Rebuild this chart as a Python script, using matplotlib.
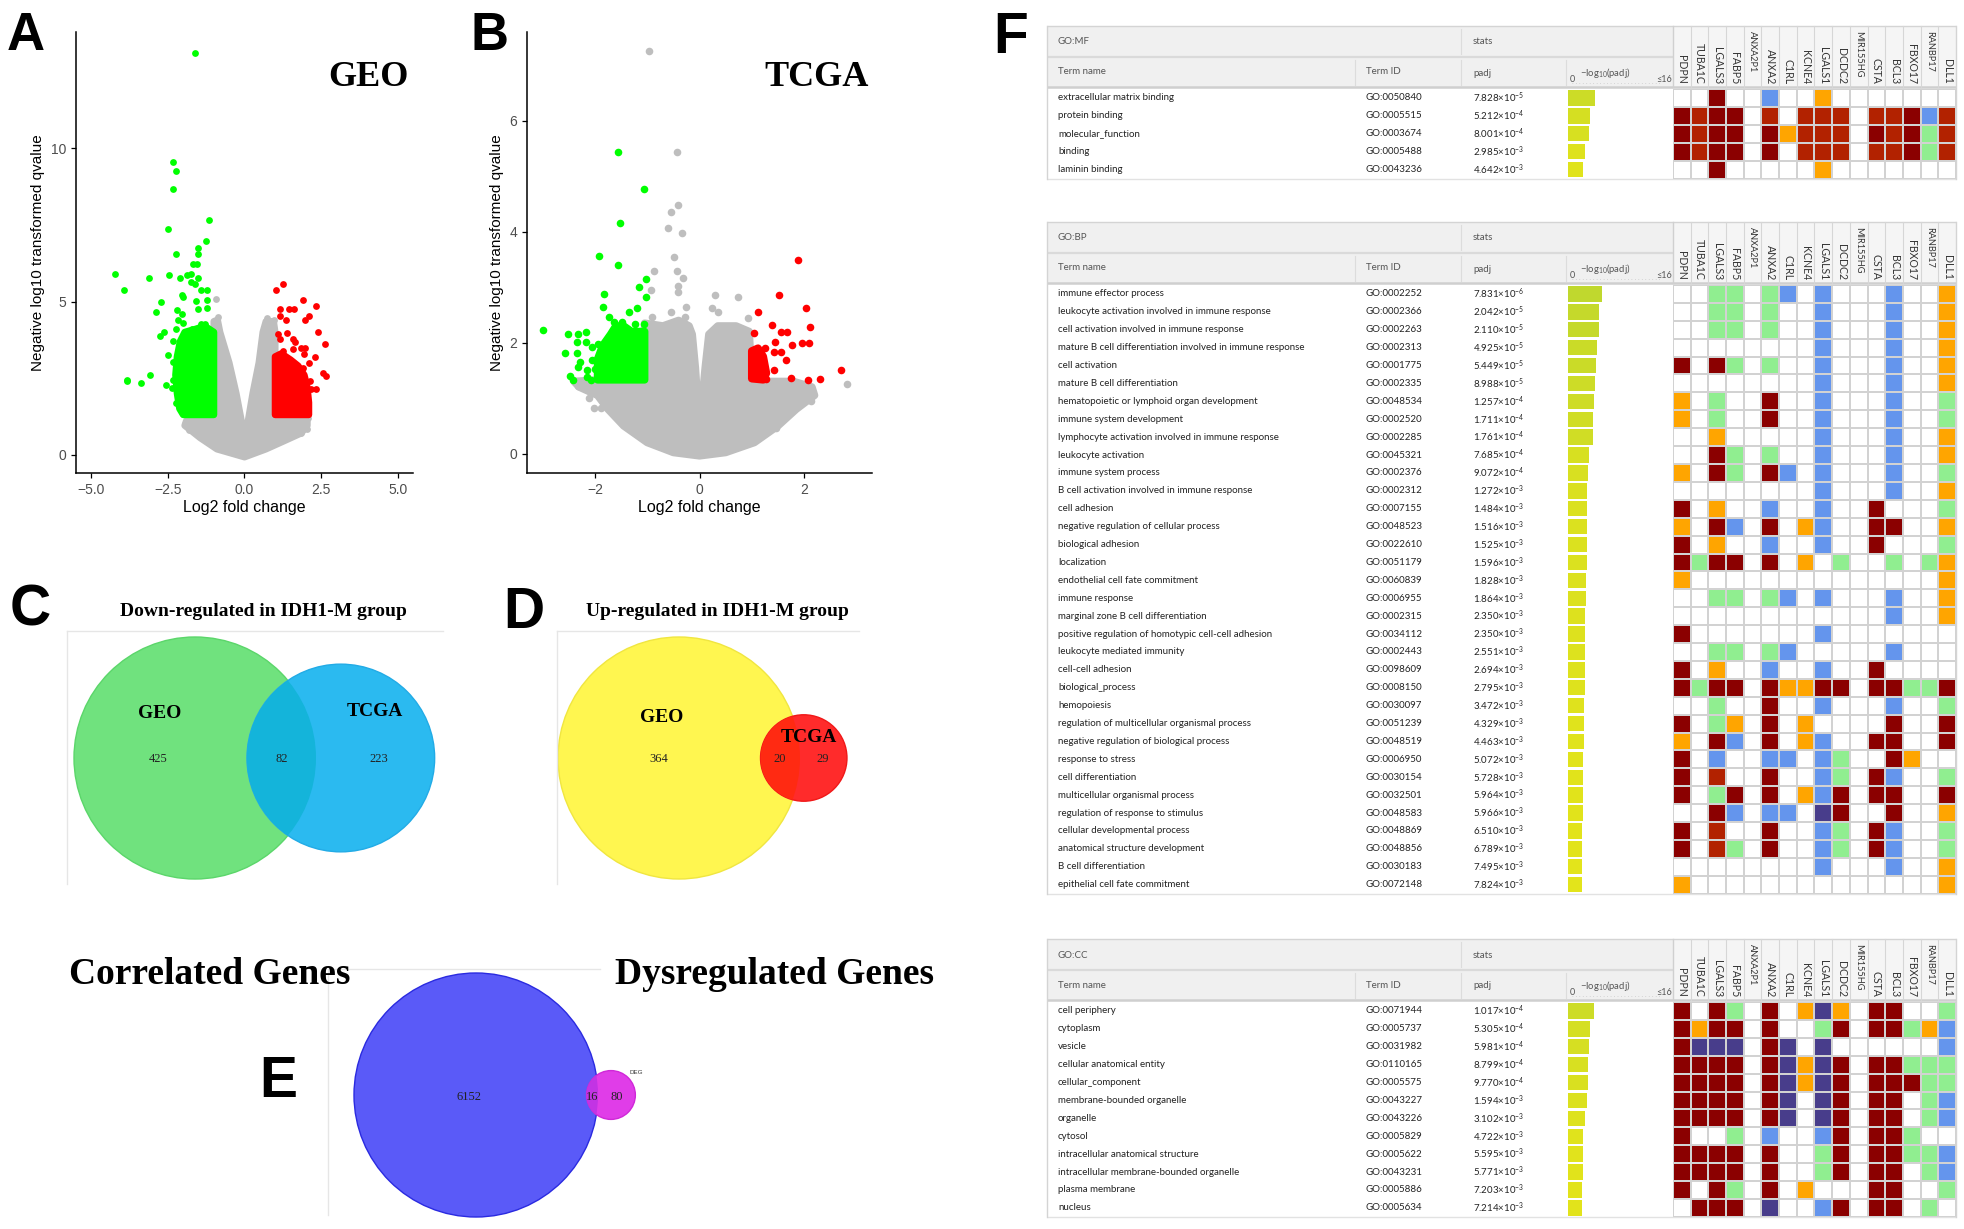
import numpy as np
import matplotlib
matplotlib.use("Agg")
import matplotlib.pyplot as plt
from matplotlib.patches import Circle, Rectangle
from matplotlib.colors import ListedColormap, BoundaryNorm, LinearSegmentedColormap

plt.rcParams["font.family"] = ["Liberation Sans", "DejaVu Sans"]
plt.rcParams["mathtext.fontset"] = "custom"
plt.rcParams["mathtext.rm"] = "Lato"
plt.rcParams["mathtext.it"] = "Lato:italic"
plt.rcParams["mathtext.bf"] = "Lato:bold"

# ─────────────────────────────────────────────
#  VOLCANO DATA  (log2 fold change, -log10 q)
# ─────────────────────────────────────────────
# dense clouds are given as outlines, lone dots as points
geo_gray_core_x = [-1.0, -0.88, -0.8, -0.5, -0.27, -0.08, 0.0, 0.1, 0.27, 0.47, 0.6, 0.7,
                   0.95, 1.0, 1.0, 2.05, 2.05, 1.85, 1.3, 0.7, 0.0, -0.9, -1.45, -1.95,
                   -1.9, -1.5, -1.0]
geo_gray_core_y = [4.35, 4.4, 4.0, 3.0, 2.0, 1.0, 0.35, 1.0, 2.0, 3.0, 4.0, 4.35,
                   4.35, 4.0, 1.3, 1.25, 0.95, 0.7, 0.45, 0.18, -0.08, 0.18, 0.55, 0.95,
                   1.1, 1.3, 1.3]
geo_gray_x = [-0.92, -0.85, 0.75, 0.95, 2.07, 2.05, 1.85, -1.95, -1.8, -1.5, -1.0, 1.6]
geo_gray_y = [5.09, 4.5, 4.45, 4.4, 1.2, 0.85, 0.72, 1.0, 0.8, 0.6, 0.35, 0.75]

geo_green_core_x = [-1.0, -2.0, -2.12, -2.2, -2.25, -2.2, -2.1, -1.95, -1.6, -1.3, -1.0]
geo_green_core_y = [1.3, 1.3, 1.5, 2.0, 2.6, 3.2, 3.7, 4.0, 4.1, 4.2, 4.0]
geo_green_x = [-1.60, -2.33, -2.25, -2.32, -1.16, -2.49, -1.25, -1.53, -2.25, -1.51, -1.68,
               -1.55, -4.23, -3.12, -2.47, -2.09, -1.88, -1.74, -1.51, -1.75, -1.61, -1.42,
               -1.23, -3.93, -2.05, -2.02, -1.57, -1.23, -2.74, -2.21, -1.51, -1.23, -2.89,
               -2.03, -2.16, -2.00, -1.41, -1.28, -2.24, -2.62, -2.76, -1.71, -2.34, -2.50,
               -2.32, -3.83, -3.83, -3.37, -3.08, -2.55, -2.37, -2.33, -2.25]
geo_green_y = [13.11, 9.57, 9.26, 8.68, 7.65, 7.38, 6.96, 6.75, 6.55, 6.55, 6.23,
               6.23, 5.90, 5.77, 5.85, 5.77, 5.86, 5.90, 5.77, 5.63, 5.57, 5.39,
               5.39, 5.37, 5.21, 5.14, 5.01, 5.04, 5.00, 4.73, 4.74, 4.79, 4.65,
               4.60, 4.38, 4.31, 4.25, 4.27, 4.09, 4.00, 3.87, 4.11, 3.71, 3.24,
               3.03, 2.44, 2.39, 2.35, 2.60, 2.28, 2.19, 2.43, 1.70]

geo_red_core_x = [1.0, 1.0, 1.2, 1.5, 1.75, 1.95, 2.05, 2.1, 2.1]
geo_red_core_y = [1.3, 3.2, 3.3, 3.1, 2.9, 2.6, 2.2, 1.7, 1.3]
geo_red_x = [1.04, 1.27, 1.91, 2.32, 1.17, 1.45, 1.61, 2.10, 1.17, 1.34, 1.96, 1.38, 2.41,
             1.09, 1.16, 1.59, 1.64, 2.62, 1.86, 1.98, 1.58, 1.94, 2.29, 2.10, 1.90, 2.55,
             2.66, 2.15, 2.34, 2.17, 1.25]
geo_red_y = [5.39, 5.56, 5.04, 4.85, 4.74, 4.74, 4.74, 4.54, 4.52, 4.41, 4.38, 3.98, 4.00,
             3.93, 3.76, 3.76, 3.69, 3.62, 3.49, 3.47, 3.44, 3.30, 3.20, 3.00, 2.84, 2.68,
             2.57, 2.39, 2.14, 2.14, 3.38]

tcga_gray_core_x = [-1.05, -0.7, -0.4, -0.2, -0.14, -0.08, 0.0, 0.11, 0.18, 0.35, 0.7, 0.95,
                    1.0, 1.3, 1.8, 2.15, 2.2, 1.85, 1.5, 1.05, 0.5, 0.0, -0.5, -1.0, -1.45,
                    -1.75, -1.95, -2.3, -2.4, -1.9, -1.05]
tcga_gray_core_y = [2.35, 2.3, 2.4, 2.3, 2.15, 1.55, 0.45, 1.55, 2.15, 2.3, 2.3, 2.2,
                    1.33, 1.3, 1.3, 1.2, 1.05, 0.8, 0.5, 0.2, 0.02, -0.04, 0.02, 0.2, 0.5,
                    0.8, 1.05, 1.2, 1.3, 1.33, 1.33]
tcga_gray_x = [-0.97, -0.43, -0.42, -0.54, -0.60, -0.34, -0.49, -0.87, -0.44, -0.31, -0.41,
               -0.41, -0.93, 0.29, 0.74, -0.25, 0.24, 0.36, 0.92, -0.90, -0.55, -0.27, 2.83,
               2.12, 2.13, 1.46, -2.02, -1.89, -2.12, -2.33]
tcga_gray_y = [7.26, 5.44, 4.49, 4.35, 4.06, 3.98, 3.54, 3.30, 3.30, 3.16, 3.02,
               2.92, 2.94, 2.86, 2.82, 2.64, 2.62, 2.56, 2.44, 2.47, 2.55, 2.47, 1.26,
               1.09, 0.94, 0.46, 0.82, 0.82, 1.00, 1.21]

tcga_green_core_x = [-1.05, -1.95, -1.95, -1.85, -1.7, -1.6, -1.45, -1.3, -1.05]
tcga_green_core_y = [1.33, 1.33, 1.7, 1.95, 2.15, 2.3, 2.3, 2.2, 2.2]
tcga_green_x = [-2.99, -1.55, -1.07, -1.53, -1.93, -1.56, -1.02, -1.15, -1.83, -1.02, -1.84,
                -1.19, -1.34, -1.73, -2.51, -2.32, -2.17, -2.35, -2.17, -2.57, -2.35, -2.05,
                -1.95, -2.28, -2.06, -2.32, -2.16, -2.00, -2.47, -2.42, -2.16, -2.07, -1.63,
                -1.48, -1.23, -1.07]
tcga_green_y = [2.22, 5.44, 4.77, 4.16, 3.56, 3.40, 3.15, 3.00, 2.88, 2.82, 2.64,
                2.62, 2.55, 2.47, 2.16, 2.16, 2.19, 2.01, 2.01, 1.81, 1.81, 1.93,
                1.98, 1.66, 1.69, 1.56, 1.51, 1.53, 1.39, 1.32, 1.38, 1.33, 2.38,
                2.37, 2.34, 2.34]

tcga_red_core_x = [1.0, 1.0, 1.12, 1.22, 1.28, 1.22]
tcga_red_core_y = [1.35, 1.85, 1.9, 1.75, 1.45, 1.33]
tcga_red_x = [1.89, 1.53, 2.03, 1.11, 1.38, 2.12, 1.05, 1.56, 1.68, 1.45, 1.76, 1.96, 2.10,
              1.56, 1.42, 1.25, 1.66, 1.16, 2.70, 2.31, 2.08, 1.75, 1.27, 1.42]
tcga_red_y = [3.49, 2.86, 2.62, 2.56, 2.32, 2.29, 2.17, 2.19, 2.19, 2.01, 1.96, 1.99, 1.99,
              1.84, 1.84, 1.90, 1.68, 1.68, 1.51, 1.35, 1.32, 1.36, 1.35, 1.51]

# ─────────────────────────────────────────────
#  VENN COUNTS  (left only, shared, right only)
# ─────────────────────────────────────────────
down_counts = [425, 82, 223]
up_counts = [364, 20, 29]
corr_counts = [6152, 16, 80]

# ─────────────────────────────────────────────
#  GO ENRICHMENT TABLES
# ─────────────────────────────────────────────
genes = ["PDPN", "TUBA1C", "LGALS3", "FABP5", "ANXA2P1", "ANXA2", "C1RL", "KCNE4",
         "LGALS1", "DCDC2", "MIR155HG", "CSTA", "BCL3", "FBXO17", "RANBP17", "DLL1"]

mf_terms = ["extracellular matrix binding", "protein binding", "molecular_function",
            "binding", "laminin binding"]
mf_ids = ["GO:0050840", "GO:0005515", "GO:0003674", "GO:0005488", "GO:0043236"]
mf_padj = [7.828e-5, 5.212e-4, 8.001e-4, 2.985e-3, 4.642e-3]
mf_hits = ["..D..B..O.......", "DRDD.R.RRR.RRDBR", "DRDD.DORRR.DRDGR",
           "DRDD.D.RRR.RRDGR", "..D.....O......."]

bp_terms = ["immune effector process", "leukocyte activation involved in immune response",
            "cell activation involved in immune response",
            "mature B cell differentiation involved in immune response", "cell activation",
            "mature B cell differentiation", "hematopoietic or lymphoid organ development",
            "immune system development", "lymphocyte activation involved in immune response",
            "leukocyte activation", "immune system process",
            "B cell activation involved in immune response", "cell adhesion",
            "negative regulation of cellular process", "biological adhesion", "localization",
            "endothelial cell fate commitment", "immune response",
            "marginal zone B cell differentiation",
            "positive regulation of homotypic cell-cell adhesion", "leukocyte mediated immunity",
            "cell-cell adhesion", "biological_process", "hemopoiesis",
            "regulation of multicellular organismal process",
            "negative regulation of biological process", "response to stress",
            "cell differentiation", "multicellular organismal process",
            "regulation of response to stimulus", "cellular developmental process",
            "anatomical structure development", "B cell differentiation",
            "epithelial cell fate commitment"]
bp_ids = ["GO:0002252", "GO:0002366", "GO:0002263", "GO:0002313", "GO:0001775", "GO:0002335",
          "GO:0048534", "GO:0002520", "GO:0002285", "GO:0045321", "GO:0002376", "GO:0002312",
          "GO:0007155", "GO:0048523", "GO:0022610", "GO:0051179", "GO:0060839", "GO:0006955",
          "GO:0002315", "GO:0034112", "GO:0002443", "GO:0098609", "GO:0008150", "GO:0030097",
          "GO:0051239", "GO:0048519", "GO:0006950", "GO:0030154", "GO:0032501", "GO:0048583",
          "GO:0048869", "GO:0048856", "GO:0030183", "GO:0072148"]
bp_padj = [7.831e-6, 2.042e-5, 2.110e-5, 4.925e-5, 5.449e-5, 8.988e-5, 1.257e-4, 1.711e-4,
           1.761e-4, 7.685e-4, 9.072e-4, 1.272e-3, 1.484e-3, 1.516e-3, 1.525e-3, 1.596e-3,
           1.828e-3, 1.864e-3, 2.350e-3, 2.350e-3, 2.551e-3, 2.694e-3, 2.795e-3, 3.472e-3,
           4.329e-3, 4.463e-3, 5.072e-3, 5.728e-3, 5.964e-3, 5.966e-3, 6.510e-3, 6.789e-3,
           7.495e-3, 7.824e-3]
bp_hits = ["..GG.GB.B...B..O", "..GG.G..B...B..O", "..GG.G..B...B..O", "........B...B..O",
           "D.DG.G..B...B..O", "........B...B..O", "O.G..D..B...B..G", "O.G..D..B...B..G",
           "..O.....B...B..O", "..DG.G..B...B..O", "O.DG.DB.B...B..G", "........B...B..O",
           "D.O..B..B..D...G", "O.DB.D.OB..DD..O", "D.O..B..B..D...G", "DGDD.D.O.G..G.GO",
           "O..............O", "..GG.GB.B...B..O", "............B..O", "D.......B.......",
           "..GG.GB.....B...", "D.O..B..B..D....", "DGDD.DOODD.DDGGD", "..G..D..B...B..G",
           "D.GO.D.O....D..D", "O.DB.D.OB..DD..D", "D.B..BB.BG..DO..", "D.R..D..BG.DB..G",
           "D.GD.D.OBD.DD..D", "..DB.BB.PD..D..O", "D.R..D..BG.DB..G", "D.RG.D..BG.DB..G",
           "........B...B..O", "O..............O"]

cc_terms = ["cell periphery", "cytoplasm", "vesicle", "cellular anatomical entity",
            "cellular_component", "membrane-bounded organelle", "organelle", "cytosol",
            "intracellular anatomical structure", "intracellular membrane-bounded organelle",
            "plasma membrane", "nucleus"]
cc_ids = ["GO:0071944", "GO:0005737", "GO:0031982", "GO:0110165", "GO:0005575", "GO:0043227",
          "GO:0043226", "GO:0005829", "GO:0005622", "GO:0043231", "GO:0005886", "GO:0005634"]
cc_padj = [1.017e-4, 5.305e-4, 5.981e-4, 8.799e-4, 9.770e-4, 1.594e-3, 3.102e-3, 4.722e-3,
           5.595e-3, 5.771e-3, 7.203e-3, 7.214e-3]
cc_hits = ["D.DG.D.OPO.DD..G", "DODD.D..GD.DDGOB", "DPPP.DP.P......B", "DDDD.DPOPD.DDGGG",
           "DDDD.DPOPD.DDDGG", "DDDD.DP.PD.DD.GB", "DDDD.DP.PD.DD.GB", "D..G.B..BD.DDG..",
           "DDDD.D..GD.DDGGB", "DDDD.D..GD.DD.GB", "D.DG.D.O...DD..G", ".DDD.P..BD.DD.G."]

# ─────────────────────────────────────────────
#  LAYOUT / STYLE
# ─────────────────────────────────────────────
W, H = 1965, 1229
GRAY, GREEN, RED = "#BEBEBE", "#00FF00", "#FF0000"
SERIF = ["Liberation Serif", "DejaVu Serif"]
TFONT = ["Lato", "DejaVu Sans"]
HIT_CODES = ".DRBOGP"
HIT_COLORS = ["white", "#8B0000", "#B22200", "#6495ED", "#FFA500", "#90EE90", "#483D8B"]

fig = plt.figure(figsize=(W / 100, H / 100), dpi=100)


def px_axes(x0, y0, x1, y1):
    return fig.add_axes([x0 / W, 1 - y1 / H, (x1 - x0) / W, (y1 - y0) / H])


# overlay in pixel units for frames, venns and text
ov = px_axes(0, 0, W, H)
ov.set_xlim(0, W)
ov.set_ylim(H, 0)
ov.axis("off")

for letter, x, y, size in [("A", 7, 50, 38), ("B", 471, 50, 38), ("C", 10, 626, 41),
                           ("D", 503, 628, 41), ("E", 259, 1097, 41), ("F", 993, 53, 41)]:
    ov.text(x, y, letter, fontsize=size, fontweight="bold", va="baseline", ha="left")


# ─────────────────────────────────────────────
#  VOLCANO PLOTS
# ─────────────────────────────────────────────
def volcano(box, gray, green, red, xlim, ylim, xticks, yticks, dot):
    ax = px_axes(*box)
    ax.set_facecolor("none")
    lw = np.sqrt(dot)
    for (cx, cy, px, py), col in zip([gray, green, red], [GRAY, GREEN, RED]):
        ax.fill(cx, cy, fc=col, ec=col, lw=lw, joinstyle="round")
        ax.scatter(px, py, s=dot, c=col, linewidths=0)
    ax.set_xlim(*xlim)
    ax.set_ylim(*ylim)
    ax.set_xticks(xticks)
    ax.set_yticks(yticks)
    for s in ["top", "right"]:
        ax.spines[s].set_visible(False)
    for s in ["left", "bottom"]:
        ax.spines[s].set_linewidth(1.1)
    ax.tick_params(direction="out", length=3.5, width=0.9, labelsize=10, labelcolor="#4D4D4D")
    ax.set_xlabel("Log2 fold change", fontsize=11.5, labelpad=2)
    ax.set_ylabel("Negative log10 transformed qvalue", fontsize=11, labelpad=4)
    return ax


volcano((76, 32, 413, 473),
        (geo_gray_core_x, geo_gray_core_y, geo_gray_x, geo_gray_y),
        (geo_green_core_x, geo_green_core_y, geo_green_x, geo_green_y),
        (geo_red_core_x, geo_red_core_y, geo_red_x, geo_red_y),
        (-5.5, 5.5), (-0.6, 13.8), [-5, -2.5, 0, 2.5, 5], [0, 5, 10], 24)
volcano((527, 32, 872, 473),
        (tcga_gray_core_x, tcga_gray_core_y, tcga_gray_x, tcga_gray_y),
        (tcga_green_core_x, tcga_green_core_y, tcga_green_x, tcga_green_y),
        (tcga_red_core_x, tcga_red_core_y, tcga_red_x, tcga_red_y),
        (-3.3, 3.3), (-0.35, 7.6), [-2, 0, 2], [0, 2, 4, 6], 30)

ov.text(368, 77, "GEO", fontsize=26, fontweight="bold", family=SERIF, ha="center", va="center")
ov.text(817, 77, "TCGA", fontsize=26, fontweight="bold", family=SERIF, ha="center", va="center")


# ─────────────────────────────────────────────
#  VENN DIAGRAMS (area proportional)
# ─────────────────────────────────────────────
def lens_area(r1, r2, d):
    if d >= r1 + r2:
        return 0.0
    if d <= abs(r1 - r2):
        return np.pi * min(r1, r2) ** 2
    a = r1 ** 2 * np.arccos((d * d + r1 * r1 - r2 * r2) / (2 * d * r1))
    b = r2 ** 2 * np.arccos((d * d + r2 * r2 - r1 * r1) / (2 * d * r2))
    c = 0.5 * np.sqrt((-d + r1 + r2) * (d + r1 - r2) * (d - r1 + r2) * (d + r1 + r2))
    return a + b - c


def centre_distance(r1, r2, target):
    lo, hi = abs(r1 - r2), r1 + r2
    for _ in range(60):
        mid = 0.5 * (lo + hi)
        if lens_area(r1, r2, mid) > target:
            lo = mid
        else:
            hi = mid
    return 0.5 * (lo + hi)


def venn(counts, cx, cy, R, cols, edges, min_frac=0.0):
    only1, both, only2 = counts
    n1, n2 = only1 + both, both + only2
    f = max(np.sqrt(n2 / n1), min_frac)
    d = centre_distance(1.0, f, both / n2 * np.pi * f ** 2)
    big = Circle((cx, cy), R, fc=cols[0], ec=edges[0], lw=1.0)
    small = Circle((cx + d * R, cy), f * R, fc=cols[1], ec=edges[1], lw=1.0)
    clip = Circle((cx, cy), R, fc="none", ec="none")
    lens = Circle((cx + d * R, cy), f * R, fc=cols[2], ec="none")
    for p in (big, small, clip, lens):
        ov.add_patch(p)
    lens.set_clip_path(clip)


def frame(x0, x1, y0, y1):
    ov.plot([x0, x1], [y0, y0], color="#E6E6E6", lw=1.0)
    ov.plot([x0, x0], [y0, y1], color="#E6E6E6", lw=1.0)


frame(67, 443, 631, 884)
venn(down_counts, 195, 758, 121, ["#70E27E", "#2BBAF0", "#14B4DA"], ["#5BD66A", "#22ABE6"])
ov.text(263, 612, "Down-regulated in IDH1-M group", fontsize=14, fontweight="bold",
        family=SERIF, ha="center", va="center")
ov.text(160, 714, "GEO", fontsize=14, fontweight="bold", family=SERIF, ha="center", va="center")
ov.text(375, 712, "TCGA", fontsize=14, fontweight="bold", family=SERIF, ha="center", va="center")
for n, x in zip(down_counts, [158, 282, 379]):
    ov.text(x, 759, str(n), fontsize=9, family=SERIF, ha="center", va="center", color="#222222")

frame(557, 859, 631, 884)
venn(up_counts, 679, 758, 121, ["#FFF650", "#FF2B2B", "#FF2A12"], ["#F0E640", "#F01818"])
ov.text(717, 612, "Up-regulated in IDH1-M group", fontsize=14, fontweight="bold",
        family=SERIF, ha="center", va="center")
ov.text(662, 717, "GEO", fontsize=14, fontweight="bold", family=SERIF, ha="center", va="center")
ov.text(809, 737, "TCGA", fontsize=14, fontweight="bold", family=SERIF, ha="center", va="center")
for n, x in zip(up_counts, [659, 780, 823]):
    ov.text(x, 759, str(n), fontsize=9, family=SERIF, ha="center", va="center", color="#222222")

frame(328, 600, 969, 1215)
venn(corr_counts, 476, 1095, 122, ["#5A5AF8", "#E03DE8", "#C234E4"], ["#2A2AE0", "#D028D8"],
     min_frac=0.2)
ov.text(210, 975, "Correlated Genes", fontsize=27, fontweight="bold", family=SERIF,
        ha="center", va="center")
ov.text(775, 975, "Dysregulated Genes", fontsize=27, fontweight="bold", family=SERIF,
        ha="center", va="center")
for n, x in zip(corr_counts, [469, 592, 617]):
    ov.text(x, 1097, str(n), fontsize=9, family=SERIF, ha="center", va="center", color="#222222")
ov.text(636, 1072, "DEG", fontsize=4.5, ha="center", va="center", color="#333333")

# ─────────────────────────────────────────────
#  GO TABLES
# ─────────────────────────────────────────────
PITCH = 17.9
X_LEFT, X_ID, X_PADJ = 1047, 1366, 1473
BAR_L, BAR_R = 1568, 1674
GRID_L, GRID_R = 1673, 1956
bar_cmap = LinearSegmentedColormap.from_list("bar", ["#E4E41A", "#BCD630"])
hit_cmap = ListedColormap(HIT_COLORS)
hit_norm = BoundaryNorm(np.arange(len(HIT_COLORS) + 1) - 0.5, len(HIT_COLORS))


def sci(v):
    e = int(np.floor(np.log10(v)))
    return "%.3f×10$^{%d}$" % (v / 10 ** e, e)


def go_table(top, title, terms, ids, padj, hits):
    n = len(terms)
    rows_top = top + 63
    bottom = rows_top + n * PITCH
    # header blocks
    ov.add_patch(Rectangle((X_LEFT, top), GRID_L - X_LEFT, 61, fc="#F0F0F0", ec="none"))
    ov.add_patch(Rectangle((GRID_L, top), GRID_R - GRID_L, 61, fc="#F5F5F5", ec="none"))
    for y, lw, col in [(top, 1.0, "#D4D4D4"), (top + 31, 1.6, "#DADADA"),
                       (top + 61, 1.8, "#CFCFCF"), (bottom, 1.0, "#E2E2E2")]:
        x1 = GRID_R if y in (top, top + 61, bottom) else GRID_L
        ov.plot([X_LEFT, x1], [y, y], color=col, lw=lw, solid_capstyle="butt")
    ov.plot([X_LEFT, X_LEFT], [top, bottom], color="#D4D4D4", lw=1.0)
    ov.plot([GRID_R, GRID_R], [top, bottom], color="#D4D4D4", lw=1.0)
    ov.plot([1355, 1355], [top + 34, top + 59], color="#DCDCDC", lw=0.8)
    ov.plot([1461, 1461], [top + 3, top + 28], color="#DCDCDC", lw=0.8)
    ov.plot([1461, 1461], [top + 34, top + 59], color="#DCDCDC", lw=0.8)
    ov.plot([1566, 1566], [top + 34, top + 59], color="#DCDCDC", lw=0.8)
    ov.plot([GRID_L, GRID_L], [top, top + 61], color="#D0D0D0", lw=1.0)

    hdr = dict(fontsize=7, family=TFONT, color="#555555", va="center")
    ov.text(1058, top + 16, title, **hdr)
    ov.text(X_PADJ, top + 16, "stats", **hdr)
    ov.text(1058, top + 46, "Term name", **hdr)
    ov.text(X_ID, top + 46, "Term ID", **hdr)
    ov.text(X_PADJ, top + 47, "padj", **hdr)
    ov.text(1570, top + 58, "0", fontsize=6.5, family=TFONT, color="#555555", va="bottom")
    ov.text(1672, top + 58, "≤16", fontsize=6.5, family=TFONT, color="#555555",
            va="bottom", ha="right")
    ov.text(1580, top + 47, "−log$_{10}$(padj)", fontsize=6.8, family=TFONT,
            color="#555555", va="center")
    ov.plot([BAR_L + 4, BAR_R - 12], [top + 57, top + 57], color="#BBBBBB", lw=0.5,
            ls=(0, (1, 4)))

    for j, g in enumerate(genes):
        xc = GRID_L + (j + 0.5) * (GRID_R - GRID_L) / len(genes)
        if j:
            xs = GRID_L + j * (GRID_R - GRID_L) / len(genes)
            ov.plot([xs, xs], [top, top + 61], color="#D6D6D6", lw=0.8)
        if len(g) >= 7:
            ov.text(xc, top + 5, g, rotation=-90, fontsize=6.6, family=TFONT,
                    color="#333333", ha="center", va="top")
        else:
            ov.text(xc, top + 58, g, rotation=-90, fontsize=7.6, family=TFONT,
                    color="#333333", ha="center", va="bottom")

    for i in range(n):
        yc = rows_top + (i + 0.5) * PITCH
        row = dict(fontsize=7, family=TFONT, color="#222222", va="center")
        ov.text(1058, yc, terms[i], **row)
        ov.text(X_ID, yc, ids[i], **row)
        ov.text(X_PADJ, yc, sci(padj[i]), **row)

    # -log10(padj) bars
    score = -np.log10(np.array(padj))
    bax = px_axes(BAR_L, rows_top, BAR_R, bottom)
    bax.set_facecolor("none")
    bax.barh(np.arange(n) + 0.5, score, height=0.86, left=0,
             color=bar_cmap(np.clip((score - 2.0) / 3.5, 0, 1)))
    bax.set_xlim(0, 16)
    bax.set_ylim(n, 0)
    bax.axis("off")

    # gene membership grid
    codes = np.array([[HIT_CODES.index(c) for c in r] for r in hits])
    gax = px_axes(GRID_L, rows_top, GRID_R, bottom)
    gax.pcolormesh(np.arange(len(genes) + 1), np.arange(n + 1), codes, cmap=hit_cmap,
                   norm=hit_norm, edgecolors="#D2D2D2", linewidth=1.1)
    gax.set_xlim(0, len(genes))
    gax.set_ylim(n, 0)
    gax.axis("off")


go_table(26, "GO:MF", mf_terms, mf_ids, mf_padj, mf_hits)
go_table(222, "GO:BP", bp_terms, bp_ids, bp_padj, bp_hits)
go_table(939, "GO:CC", cc_terms, cc_ids, cc_padj, cc_hits)

fig.savefig("out.png", dpi=100)
